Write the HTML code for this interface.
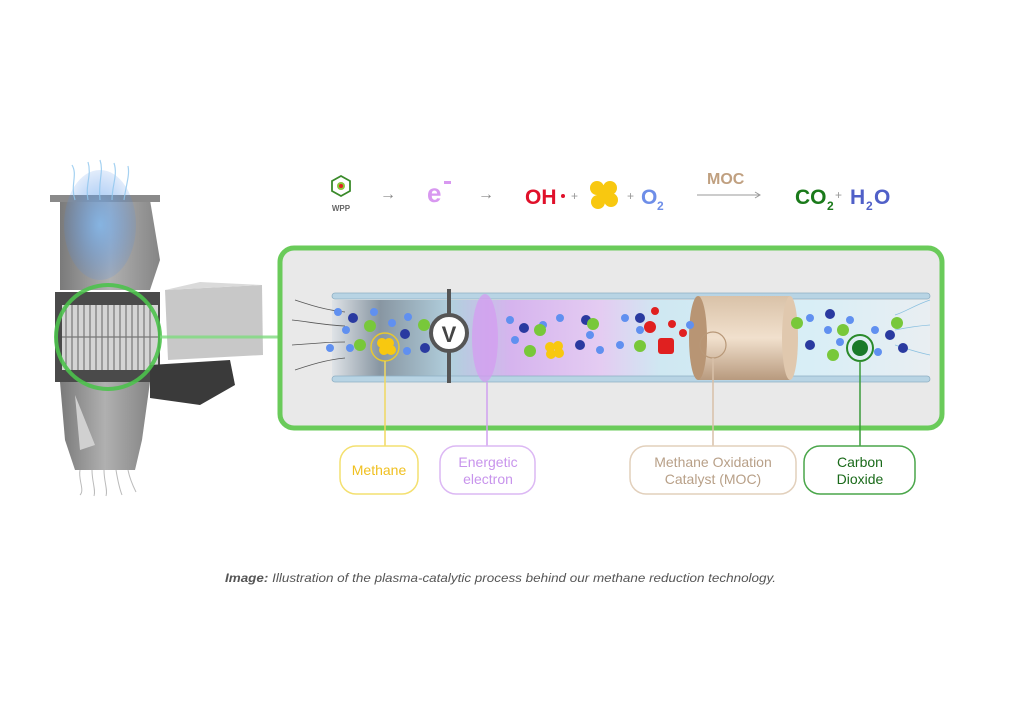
<!DOCTYPE html>
<html><head><meta charset="utf-8"><style>
html,body{margin:0;padding:0;background:#fff;width:1024px;height:722px;overflow:hidden}
svg{display:block}
text{font-family:"Liberation Sans",sans-serif}
</style></head><body>
<svg width="1024" height="722" viewBox="0 0 1024 722" xmlns="http://www.w3.org/2000/svg">
<defs>
<linearGradient id="tube" x1="0" y1="0" x2="1" y2="0">
<stop offset="0" stop-color="#dfe3e7"/><stop offset="0.08" stop-color="#8896a2"/><stop offset="0.2" stop-color="#b2d0de"/><stop offset="0.3" stop-color="#d6b4ee"/><stop offset="0.45" stop-color="#e4ccf2"/><stop offset="0.55" stop-color="#cfe8f2"/><stop offset="0.8" stop-color="#d8eef6"/><stop offset="1" stop-color="#e9eef2"/>
</linearGradient>
<linearGradient id="cat" x1="0" y1="0" x2="0" y2="1"><stop offset="0" stop-color="#d9c2a8"/><stop offset="0.5" stop-color="#f1e0cd"/><stop offset="1" stop-color="#b89a7e"/></linearGradient>
<radialGradient id="blue" cx="0.5" cy="0.5" r="0.5"><stop offset="0" stop-color="#7fb8f0"/><stop offset="1" stop-color="#4d8de8" stop-opacity="0.2"/></radialGradient>
<linearGradient id="metal" x1="0" y1="0" x2="1" y2="0"><stop offset="0" stop-color="#7a7a7a"/><stop offset="0.5" stop-color="#b0b0b0"/><stop offset="1" stop-color="#858585"/></linearGradient>
</defs>

<!-- machine -->
<polygon points="60,200 150,200 160,260 150,290 60,290" fill="url(#metal)"/>
<rect x="50" y="195" width="110" height="7" fill="#8a8a8a"/>
<ellipse cx="100" cy="225" rx="36" ry="55" fill="url(#blue)" opacity="0.8"/>
<g stroke="#8ec6ee" stroke-width="1.2" fill="none" opacity="0.8">
<path d="M75,200 C70,185 78,175 72,165"/><path d="M88,200 C85,185 92,175 88,162"/><path d="M100,200 C98,180 104,172 100,160"/><path d="M112,200 C112,185 118,175 114,163"/><path d="M124,200 C126,185 130,175 128,166"/>
</g>
<rect x="55" y="292" width="105" height="90" fill="#4a4a4a"/>
<polygon points="60,382 150,382 142,440 135,470 75,470 65,440" fill="url(#metal)"/>
<polygon points="75,395 95,445 80,450" fill="#d0d0d0"/>
<rect x="62" y="305" width="96" height="65" fill="#d4d4d4"/>
<g stroke="#777" stroke-width="1.2">
<line x1="66" y1="305" x2="66" y2="370"/><line x1="72" y1="305" x2="72" y2="370"/><line x1="78" y1="305" x2="78" y2="370"/><line x1="84" y1="305" x2="84" y2="370"/><line x1="90" y1="305" x2="90" y2="370"/><line x1="96" y1="305" x2="96" y2="370"/><line x1="102" y1="305" x2="102" y2="370"/><line x1="108" y1="305" x2="108" y2="370"/><line x1="114" y1="305" x2="114" y2="370"/><line x1="120" y1="305" x2="120" y2="370"/><line x1="126" y1="305" x2="126" y2="370"/><line x1="132" y1="305" x2="132" y2="370"/><line x1="138" y1="305" x2="138" y2="370"/><line x1="144" y1="305" x2="144" y2="370"/><line x1="150" y1="305" x2="150" y2="370"/>
<line x1="62" y1="337" x2="158" y2="337"/>
</g>
<polygon points="165,290 262,285 263,355 168,360" fill="#c8c8c8"/>
<polygon points="165,290 200,282 262,285" fill="#dadada"/>
<polygon points="150,365 230,360 235,385 200,405 150,398" fill="#3a3a3a"/>
<g stroke="#aaa" stroke-width="1" fill="none" opacity="0.8">
<path d="M80,470 C78,480 85,490 80,495"/><path d="M92,470 C92,482 96,490 94,496"/><path d="M104,470 C104,482 108,490 106,496"/><path d="M116,470 C118,482 120,490 122,495"/><path d="M128,470 C130,480 134,488 136,492"/>
</g>
<circle cx="108" cy="337" r="52" fill="none" stroke="#4cc24c" stroke-width="4" opacity="0.9"/>
<line x1="160" y1="337" x2="282" y2="337" stroke="#7fdc7f" stroke-width="3" opacity="0.8"/>

<!-- equation -->
<g transform="translate(341,186)">
<polygon points="0,-10 9,-5 9,5 0,10 -9,5 -9,-5" fill="none" stroke="#3a8a2a" stroke-width="1.8"/>
<circle r="4" fill="#8cc83c"/><circle r="2" fill="#e02020"/>
</g>
<text x="341" y="211" font-size="8" font-weight="bold" fill="#666" text-anchor="middle">WPP</text>
<text x="380" y="199" font-size="16" fill="#888">→</text>
<text x="427" y="202" font-size="26" font-weight="bold" fill="#d898f0">e</text>
<rect x="444" y="181" width="7" height="3" fill="#d898f0"/>
<text x="478" y="199" font-size="16" fill="#888">→</text>
<text x="525" y="204" font-size="21" font-weight="bold" fill="#e0102a">OH</text>
<circle cx="563" cy="196" r="2" fill="#e0102a"/>
<text x="571" y="200" font-size="12" fill="#999">+</text>
<g fill="#f8c810"><circle cx="597" cy="188" r="7"/><circle cx="610" cy="188" r="7"/><circle cx="598" cy="202" r="7"/><circle cx="611" cy="200" r="7"/><circle cx="604" cy="195" r="7"/></g>
<text x="627" y="200" font-size="12" fill="#999">+</text>
<text x="641" y="204" font-size="21" font-weight="bold" fill="#6e8ee8">O</text>
<text x="657" y="210" font-size="12" font-weight="bold" fill="#6e8ee8">2</text>
<text x="707" y="184" font-size="16" font-weight="bold" fill="#c0a080">MOC</text>
<line x1="697" y1="195" x2="760" y2="195" stroke="#999" stroke-width="1"/>
<polyline points="755,192 760,195 755,198" fill="none" stroke="#999" stroke-width="1"/>
<text x="795" y="204" font-size="21" font-weight="bold" fill="#1a7a1a">CO</text>
<text x="827" y="210" font-size="12" font-weight="bold" fill="#1a7a1a">2</text>
<text x="835" y="199" font-size="12" fill="#999">+</text>
<text x="850" y="204" font-size="21" font-weight="bold" fill="#5060c8">H</text>
<text x="866" y="210" font-size="12" font-weight="bold" fill="#5060c8">2</text>
<text x="874" y="204" font-size="21" font-weight="bold" fill="#5060c8">O</text>

<!-- green box -->
<rect x="280" y="248" width="662" height="180" rx="14" fill="#e9e9e9" stroke="#6acb5a" stroke-width="5"/>
<rect x="332" y="300" width="598" height="76" fill="url(#tube)"/>
<rect x="332" y="293" width="598" height="6" rx="3" fill="#b8d4e4" stroke="#8fb0c4" stroke-width="0.8"/>
<rect x="332" y="376" width="598" height="6" rx="3" fill="#b8d4e4" stroke="#8fb0c4" stroke-width="0.8"/>
<g stroke="#555" stroke-width="0.8" fill="none">
<path d="M295,300 C310,305 325,310 345,312"/><path d="M292,320 C310,322 325,325 345,326"/><path d="M292,345 C310,344 325,342 345,342"/><path d="M295,370 C310,365 325,360 345,358"/>
</g>
<g stroke="#8ac0e0" stroke-width="0.8" fill="none">
<path d="M930,300 C915,305 905,312 895,315"/><path d="M930,325 C915,326 905,328 895,330"/><path d="M930,355 C915,352 905,348 895,345"/>
</g>
<!-- catalyst -->
<rect x="698" y="296" width="92" height="84" fill="url(#cat)"/>
<ellipse cx="790" cy="338" rx="8" ry="42" fill="#e0c8ae"/>
<ellipse cx="698" cy="338" rx="9" ry="42" fill="#b89574"/>
<!-- electrode -->
<ellipse cx="485" cy="338" rx="13" ry="44" fill="#d49cf0" opacity="0.75"/>
<rect x="447" y="289" width="4" height="94" fill="#555"/>
<circle cx="449" cy="333" r="18" fill="#fff" stroke="#555" stroke-width="4"/>
<text x="449" y="342" font-size="22" font-weight="bold" fill="#444" text-anchor="middle">V</text>
<!-- particles -->
<g fill="#6090f0">
<circle cx="338" cy="312" r="4"/><circle cx="346" cy="330" r="4"/><circle cx="350" cy="348" r="4"/><circle cx="374" cy="312" r="4"/><circle cx="392" cy="323" r="4"/><circle cx="408" cy="317" r="4"/><circle cx="407" cy="351" r="4"/><circle cx="330" cy="348" r="4"/>
<circle cx="510" cy="320" r="4"/><circle cx="515" cy="340" r="4"/><circle cx="543" cy="325" r="4"/><circle cx="560" cy="318" r="4"/><circle cx="590" cy="335" r="4"/><circle cx="600" cy="350" r="4"/><circle cx="625" cy="318" r="4"/><circle cx="620" cy="345" r="4"/><circle cx="640" cy="330" r="4"/><circle cx="690" cy="325" r="4"/>
<circle cx="810" cy="318" r="4"/><circle cx="828" cy="330" r="4"/><circle cx="850" cy="320" r="4"/><circle cx="875" cy="330" r="4"/><circle cx="878" cy="352" r="4"/><circle cx="840" cy="342" r="4"/>
</g>
<g fill="#2a3aa0">
<circle cx="353" cy="318" r="5"/><circle cx="405" cy="334" r="5"/><circle cx="425" cy="348" r="5"/><circle cx="524" cy="328" r="5"/><circle cx="586" cy="320" r="5"/><circle cx="580" cy="345" r="5"/><circle cx="640" cy="318" r="5"/><circle cx="830" cy="314" r="5"/><circle cx="810" cy="345" r="5"/><circle cx="890" cy="335" r="5"/><circle cx="903" cy="348" r="5"/>
</g>
<g fill="#78c83a">
<circle cx="370" cy="326" r="6"/><circle cx="360" cy="345" r="6"/><circle cx="424" cy="325" r="6"/><circle cx="540" cy="330" r="6"/><circle cx="530" cy="351" r="6"/><circle cx="593" cy="324" r="6"/><circle cx="640" cy="346" r="6"/><circle cx="797" cy="323" r="6"/><circle cx="843" cy="330" r="6"/><circle cx="833" cy="355" r="6"/><circle cx="897" cy="323" r="6"/>
</g>
<g fill="#e02020">
<circle cx="655" cy="311" r="4"/><circle cx="650" cy="327" r="6"/><circle cx="672" cy="324" r="4"/><circle cx="683" cy="333" r="4"/>
<rect x="658" y="338" width="16" height="16" rx="3"/>
</g>
<g fill="#f8c810"><circle cx="382" cy="343" r="5"/><circle cx="389" cy="343" r="5"/><circle cx="384" cy="350" r="5"/><circle cx="391" cy="350" r="5"/><circle cx="550" cy="347" r="5"/><circle cx="558" cy="346" r="5"/><circle cx="551" cy="354" r="5"/><circle cx="559" cy="353" r="5"/></g>
<circle cx="385" cy="347" r="14" fill="none" stroke="#e8c830" stroke-width="1.5"/>
<circle cx="713" cy="345" r="13" fill="none" stroke="#b89878" stroke-width="1.2"/>
<circle cx="860" cy="348" r="13" fill="none" stroke="#2a8a2a" stroke-width="2"/>
<circle cx="860" cy="348" r="8" fill="#1a7a2a"/>

<!-- connector lines -->
<line x1="385" y1="361" x2="385" y2="446" stroke="#f0d860" stroke-width="1.5"/>
<line x1="487" y1="382" x2="487" y2="446" stroke="#d0a0f0" stroke-width="1.5"/>
<line x1="713" y1="358" x2="713" y2="446" stroke="#d8c0a8" stroke-width="1.5"/>
<line x1="860" y1="361" x2="860" y2="446" stroke="#3a9a3a" stroke-width="1.5"/>

<!-- labels -->
<rect x="340" y="446" width="78" height="48" rx="16" fill="#fff" stroke="#f4e070" stroke-width="1.5"/>
<text x="379" y="475" font-size="14" fill="#f0c020" text-anchor="middle">Methane</text>
<rect x="440" y="446" width="95" height="48" rx="16" fill="#fff" stroke="#dcb8f4" stroke-width="1.5"/>
<text x="488" y="467" font-size="14" fill="#c894ec" text-anchor="middle">Energetic</text>
<text x="488" y="484" font-size="14" fill="#c894ec" text-anchor="middle">electron</text>
<rect x="630" y="446" width="166" height="48" rx="16" fill="#fff" stroke="#e2d0bc" stroke-width="1.5"/>
<text x="713" y="467" font-size="14" fill="#b8a088" text-anchor="middle">Methane Oxidation</text>
<text x="713" y="484" font-size="14" fill="#b8a088" text-anchor="middle">Catalyst (MOC)</text>
<rect x="804" y="446" width="111" height="48" rx="16" fill="#fff" stroke="#4aa64a" stroke-width="1.5"/>
<text x="860" y="467" font-size="14" fill="#1a6a1a" text-anchor="middle">Carbon</text>
<text x="860" y="484" font-size="14" fill="#1a6a1a" text-anchor="middle">Dioxide</text>

<text x="225" y="582" font-size="12" font-style="italic" fill="#555" textLength="551" lengthAdjust="spacingAndGlyphs"><tspan font-weight="bold">Image:</tspan> Illustration of the plasma-catalytic process behind our methane reduction technology.</text>
</svg>
</body></html>
